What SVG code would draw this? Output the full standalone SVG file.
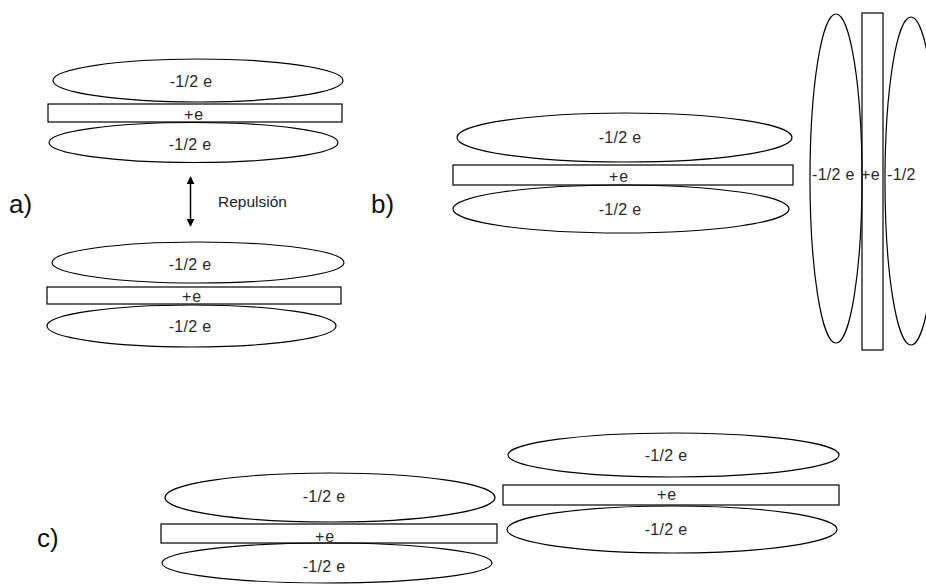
<svg xmlns="http://www.w3.org/2000/svg" width="926" height="586" viewBox="0 0 926 586">
<defs>
<marker id="ah" viewBox="0 0 10 10" refX="9" refY="5" markerWidth="8" markerHeight="8" markerUnits="userSpaceOnUse" orient="auto-start-reverse">
<path d="M0,0 L10,5 L0,10 z" fill="#000"/>
</marker>
</defs>
<style>
.sh{fill:none;stroke:#000;stroke-width:1.2}
.t{font-family:"Liberation Sans",Arial,sans-serif;font-size:16px;letter-spacing:0.3px;fill:#2a2a2a;text-anchor:middle}
.p{font-family:"Liberation Sans",Arial,sans-serif;font-size:16px;letter-spacing:1px;fill:#2a2a2a;text-anchor:middle}
.ts{font-family:"Liberation Sans",Arial,sans-serif;font-size:16px;letter-spacing:0.3px;fill:#2a2a2a}
.rp{font-family:"Liberation Sans",Arial,sans-serif;font-size:15.5px;fill:#222}
.big{font-family:"Liberation Sans",Arial,sans-serif;font-size:26px;fill:#111}
</style>
<rect width="926" height="586" fill="#fff"/>
<text class="big" x="9" y="213">a)</text>
<text class="big" x="371" y="213">b)</text>
<text class="big" x="37" y="547">c)</text>

<g id="a-top">
<ellipse class="sh" cx="198" cy="80.5" rx="145" ry="21.5"/>
<text class="t" x="191" y="87">-1/2 e</text>
<rect class="sh" x="48" y="104" width="294" height="18"/>
<text class="p" x="194" y="120">+e</text>
<ellipse class="sh" cx="193.5" cy="142.5" rx="144.5" ry="20"/>
<text class="t" x="190" y="150">-1/2 e</text>
</g>

<g id="a-bottom">
<ellipse class="sh" cx="198" cy="262.5" rx="146" ry="20.5"/>
<text class="t" x="190" y="270">-1/2 e</text>
<rect class="sh" x="47" y="287" width="294" height="17"/>
<text class="p" x="192" y="302">+e</text>
<ellipse class="sh" cx="191.5" cy="326" rx="144.5" ry="21"/>
<text class="t" x="190" y="332">-1/2 e</text>
</g>

<g id="connectors">
<line x1="190.5" y1="177" x2="190.5" y2="226" stroke="#000" stroke-width="1.5" marker-start="url(#ah)" marker-end="url(#ah)"/>
<text class="rp" x="218" y="207">Repulsión</text>
</g>

<g id="b-horizontal">
<ellipse class="sh" cx="624.5" cy="137.5" rx="167.5" ry="24.5"/>
<text class="t" x="620" y="143">-1/2 e</text>
<rect class="sh" x="453" y="165" width="340" height="20"/>
<text class="p" x="619" y="182">+e</text>
<ellipse class="sh" cx="621" cy="209" rx="168" ry="24"/>
<text class="t" x="620" y="215">-1/2 e</text>
</g>

<g id="b-vertical">
<ellipse class="sh" cx="836" cy="178.5" rx="26" ry="164.5"/>
<rect class="sh" x="862" y="13" width="21" height="337"/>
<ellipse class="sh" cx="911" cy="181" rx="26" ry="164"/>
<text class="ts" x="812" y="180">-1/2 e</text>
<text class="ts" x="861" y="180">+e</text>
<text class="ts" x="887" y="180">-1/2</text>
</g>

<g id="c-left">
<ellipse class="sh" cx="330" cy="497.5" rx="165" ry="24.5"/>
<text class="t" x="324" y="502">-1/2 e</text>
<rect class="sh" x="161" y="524" width="336" height="19"/>
<text class="p" x="325" y="542">+e</text>
<ellipse class="sh" cx="327" cy="563" rx="165" ry="20"/>
<text class="t" x="324" y="572">-1/2 e</text>
</g>

<g id="c-right">
<ellipse class="sh" cx="673.5" cy="455" rx="165.5" ry="22"/>
<text class="t" x="666" y="461">-1/2 e</text>
<rect class="sh" x="503" y="485" width="336" height="20"/>
<text class="p" x="667" y="500">+e</text>
<ellipse class="sh" cx="672" cy="529.5" rx="165" ry="23.5"/>
<text class="t" x="666" y="535">-1/2 e</text>
</g>
</svg>
